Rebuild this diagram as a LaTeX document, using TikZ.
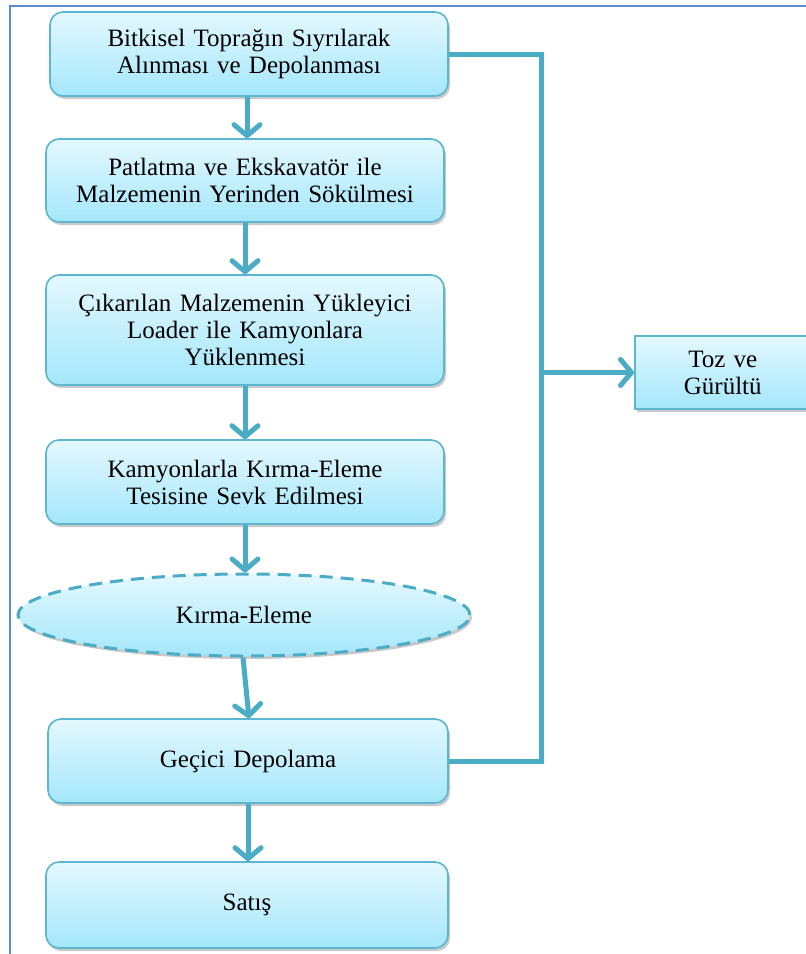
\documentclass[tikz,border=0pt]{standalone}
\usepackage{fontspec}
\setmainfont{Liberation Serif}
\usetikzlibrary{arrows.meta,shapes.geometric,shadows}
\definecolor{linec}{HTML}{4BACC6}
\definecolor{boxedge}{HTML}{5DB6D0}
\definecolor{filltop}{HTML}{E4F8FE}
\definecolor{fillbot}{HTML}{A4E7FB}
\definecolor{framec}{HTML}{5A8BD2}
\newcommand\wideword{\spaceskip=8.3pt plus 2pt minus 1pt\relax}
\tikzset{
  txt/.style={align=center, font=\fontsize{25}{27}\selectfont,
    execute at begin node=\wideword, inner sep=0pt},
  stepbox/.style={txt, draw=boxedge, line width=1.6pt, rounded corners=13pt,
    top color=filltop, bottom color=fillbot,
    drop shadow={shadow xshift=2pt, shadow yshift=-3pt, opacity=0.35, fill=black!60}},
  sidebox/.style={txt, draw=boxedge, line width=1.6pt,
    top color=filltop, bottom color=fillbot,
    drop shadow={shadow xshift=2pt, shadow yshift=-3pt, opacity=0.35, fill=black!60}},
  ovalbox/.style={txt, ellipse, draw=linec, line width=3pt, dash pattern=on 13pt off 8pt,
    top color=filltop, bottom color=fillbot,
    drop shadow={shadow xshift=2pt, shadow yshift=-3pt, opacity=0.35, fill=black!60}},
  flow/.style={draw=linec, line width=5pt,
    -{Straight Barb[length=11pt,width=26pt,round]}},
  link/.style={draw=linec, line width=5pt, line join=miter},
}
\begin{document}
\begin{tikzpicture}[x=1pt,y=-1pt]
\useasboundingbox (0,0) rectangle (806,954);
\fill[white] (0,0) rectangle (806,954);
% frame
\draw[framec, line width=2.2pt] (10,960) -- (10,6) -- (812,6);
% boxes
\node[stepbox, minimum width=398pt, minimum height=84pt] (b1) at (249,54)
  {Bitkisel Toprağın Sıyrılarak\\Alınması ve Depolanması};
\node[stepbox, minimum width=398pt, minimum height=83pt] (b2) at (245,180.5)
  {Patlatma ve Ekskavatör ile\\Malzemenin Yerinden Sökülmesi};
\node[stepbox, minimum width=398pt, minimum height=110pt] (b3) at (245,330)
  {Çıkarılan Malzemenin Yükleyici\\Loader ile Kamyonlara\\Yüklenmesi};
\node[stepbox, minimum width=398pt, minimum height=84pt] (b4) at (245,482)
  {Kamyonlarla Kırma-Eleme\\Tesisine Sevk Edilmesi};
\node[ovalbox, minimum width=452pt, minimum height=82pt] (e) at (244,615)
  {Kırma-Eleme};
\node[stepbox, minimum width=400pt, minimum height=84pt] (b5) at (248,761)
  {Geçici Depolama};
\node[stepbox, minimum width=402pt, minimum height=86pt] (b6) at (247,905)
  {Satış};
\node[sidebox, minimum width=176pt, minimum height=73pt, anchor=west] (t) at (634,372.5)
  {Toz ve\\Gürültü};
% flow arrows
\draw[flow] (b1.south -| 247,0) -- (b2.north -| 247,0);
\draw[flow] (b2.south -| 245,0) -- (b3.north -| 245,0);
\draw[flow] (b3.south -| 245,0) -- (b4.north -| 245,0);
\draw[flow] (b4.south -| 245,0) -- (e.north -| 245,0);
\draw[flow] (e.south -| 243,0) -- (b5.north -| 249,0);
\draw[flow] (b5.south -| 248,0) -- (b6.north -| 248,0);
% side connector
\coordinate (j) at (541,372.5);
\draw[link] (b1.east) -- (b1.east -| j) -- (b5.east -| j) -- (b5.east);
\draw[flow] (j) -- (t.west);
\end{tikzpicture}
\end{document}
